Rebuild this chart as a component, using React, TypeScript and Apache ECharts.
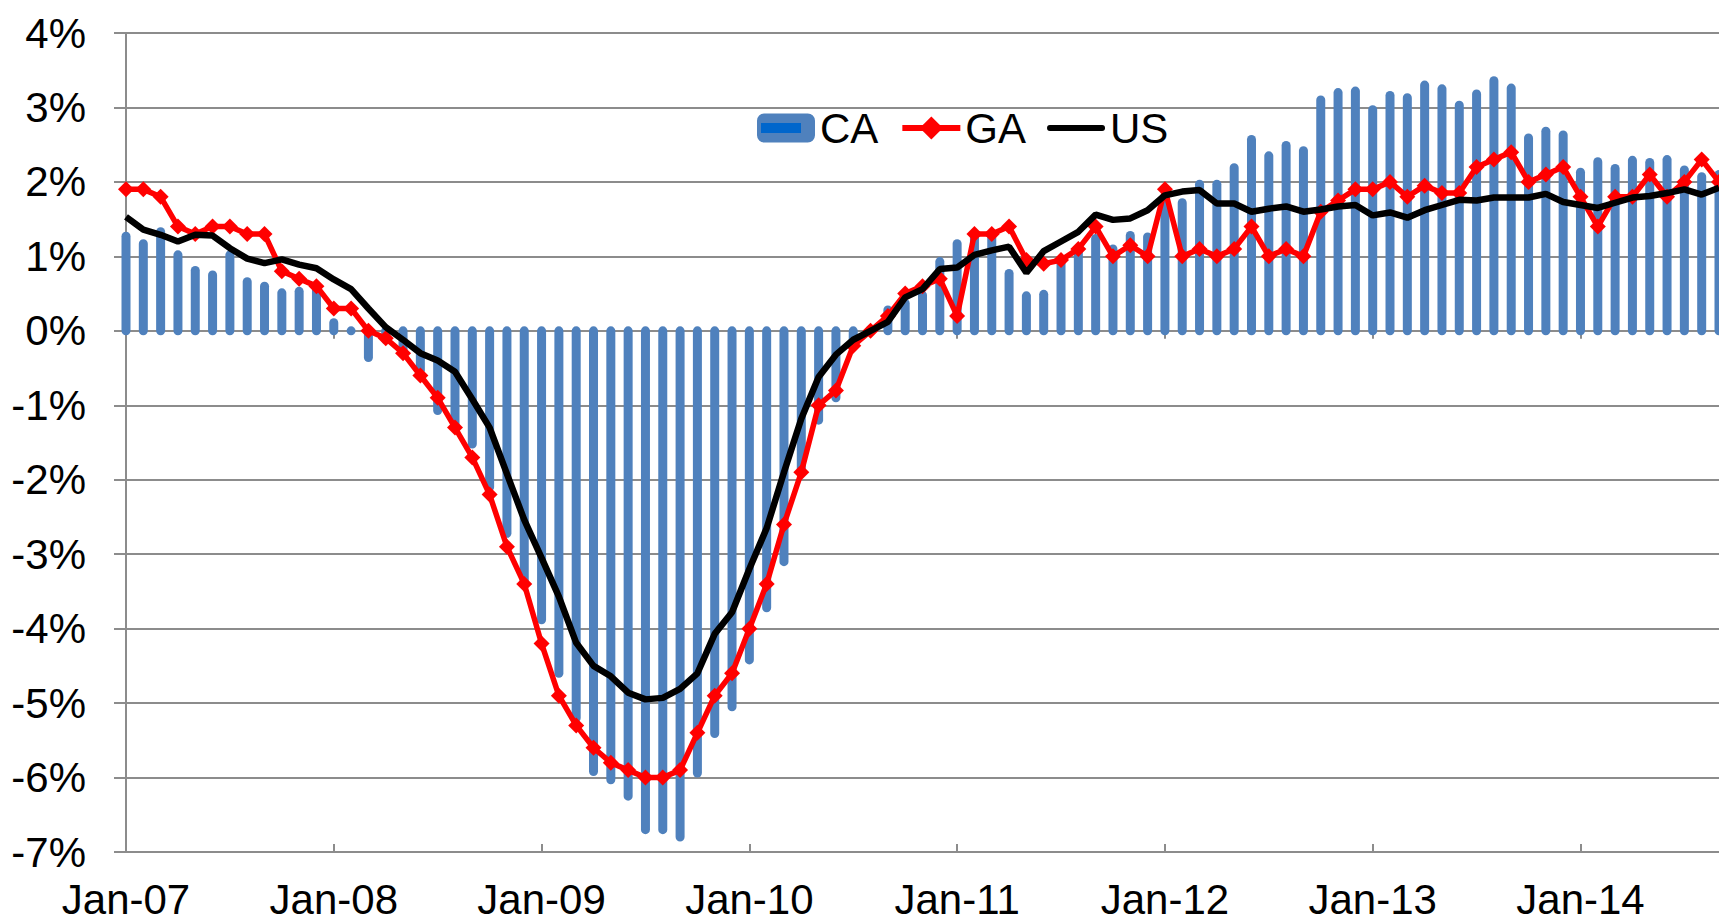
import React, { useEffect, useRef } from 'react';
import * as echarts from 'echarts';

const MONTHS = ['Jan', 'Feb', 'Mar', 'Apr', 'May', 'Jun', 'Jul', 'Aug', 'Sep', 'Oct', 'Nov', 'Dec'];
const YEARS = ['07', '08', '09', '10', '11', '12', '13', '14'];
const N_POINTS = 93; // Jan-07 .. Sep-14

const CA = [
  1.27, 1.17, 1.33, 1.02, 0.81, 0.75, 1.02, 0.66, 0.6, 0.51, 0.53, 0.55,
  0.11, 0.0, -0.36, -0.12, -0.28, -0.53, -1.07, -1.3, -1.52, -2.1, -2.72, -3.4,
  -3.88, -4.6, -5.2, -5.92, -6.03, -6.25, -6.7, -6.7, -6.8, -5.94, -5.41, -5.05,
  -4.42, -3.72, -3.1, -1.9, -1.2, -0.9, -0.15, 0.02, 0.28, 0.37, 0.48, 0.93,
  1.17, 1.25, 1.25, 0.77, 0.47, 0.49, 0.95, 1.1, 1.24, 1.1, 1.28, 1.26,
  1.8, 1.72, 1.97, 1.97, 2.19, 2.57, 2.35, 2.49, 2.42, 3.1, 3.2, 3.22,
  2.97, 3.16, 3.13, 3.3, 3.25, 3.03, 3.18, 3.36, 3.26, 2.59, 2.68, 2.63,
  2.13, 2.27, 2.18, 2.29, 2.26, 2.3, 2.16, 2.07, 2.1,
];

const GA = [
  1.9, 1.9, 1.8, 1.4, 1.3, 1.4, 1.4, 1.3, 1.3, 0.8, 0.7, 0.6,
  0.3, 0.3, 0.0, -0.1, -0.3, -0.6, -0.9, -1.3, -1.7, -2.2, -2.9, -3.4,
  -4.2, -4.9, -5.3, -5.6, -5.8, -5.9, -6.0, -6.0, -5.9, -5.4, -4.9, -4.6,
  -4.0, -3.4, -2.6, -1.9, -1.0, -0.8, -0.2, 0.0, 0.2, 0.5, 0.6, 0.7,
  0.2, 1.3, 1.3, 1.4, 0.95, 0.9, 0.95, 1.1, 1.4, 1.0, 1.15, 1.0,
  1.9, 1.0, 1.1, 1.0, 1.1, 1.4, 1.0, 1.1, 1.0, 1.6, 1.75, 1.9,
  1.9, 2.0, 1.8, 1.95, 1.85, 1.85, 2.2, 2.3, 2.4, 2.0, 2.1, 2.2,
  1.8, 1.4, 1.8, 1.8, 2.1, 1.8, 2.0, 2.3, 2.0,
];

const US = [
  1.53, 1.36, 1.29, 1.2, 1.29, 1.28, 1.11, 0.97, 0.91, 0.96, 0.89, 0.84,
  0.69, 0.56, 0.3, 0.05, -0.12, -0.3, -0.4, -0.55, -0.92, -1.3, -1.92, -2.54,
  -3.05, -3.57, -4.19, -4.5, -4.64, -4.86, -4.95, -4.93, -4.81, -4.6, -4.07, -3.78,
  -3.2, -2.65, -1.9, -1.18, -0.62, -0.32, -0.12, 0.0, 0.12, 0.45, 0.56, 0.83,
  0.85, 1.02, 1.08, 1.13, 0.78, 1.07, 1.2, 1.33, 1.56, 1.49, 1.51, 1.62,
  1.82, 1.87, 1.89, 1.71, 1.71, 1.6, 1.64, 1.67, 1.6, 1.63, 1.67, 1.69,
  1.55, 1.59, 1.52, 1.62, 1.69, 1.76, 1.75, 1.79, 1.79, 1.79, 1.84, 1.73,
  1.69, 1.65, 1.72, 1.79, 1.81, 1.85, 1.9, 1.83, 1.92,
];

const Y_MIN = -7;
const Y_MAX = 4;
const Y_STEP = 1;

const FONT = '"Liberation Sans", Arial, sans-serif';
const GRID_COLOR = '#8c8c8c';
const CA_COLOR = '#4F81BD';
const GA_COLOR = '#FF0000';
const US_COLOR = '#000000';

const LEGEND_LEFT = 752;
const LEGEND_TOP = 102;

function buildCategories(): string[] {
  const out: string[] = [];
  for (const y of YEARS) for (const m of MONTHS) out.push(`${m}-${y}`);
  return out.slice(0, N_POINTS);
}

export default function App() {
  const ref = useRef<HTMLDivElement>(null);

  useEffect(() => {
    if (!ref.current) return;
    const chart = echarts.init(ref.current, null, { renderer: 'svg' });
    const categories = buildCategories();
    const BAR_W = 9;

    const option: any = {
      animation: false,
      backgroundColor: '#ffffff',
      textStyle: { fontFamily: FONT },
      grid: { left: 126, right: -10, top: 33, bottom: 70, containLabel: false },
      legend: {
        left: LEGEND_LEFT,
        top: LEGEND_TOP,
        itemWidth: 58,
        itemHeight: 29,
        itemGap: 21,
        lineStyle: { width: 6 },
        textStyle: { fontSize: 42, color: '#000', fontFamily: FONT },
        data: [
          { name: 'CA', icon: 'roundRect', itemStyle: { color: CA_COLOR } },
          { name: 'GA' },
          {
            name: 'US',
            icon: 'path://M3,0H57A3,3 0 0 1 57,6H3A3,3 0 0 1 3,0Z',
            itemStyle: { color: US_COLOR },
          },
        ],
      },
      graphic: [
        {
          type: 'rect',
          left: LEGEND_LEFT + 9,
          top: LEGEND_TOP + 21,
          shape: { width: 40, height: 10 },
          style: { fill: '#0066CC' },
          z: 100,
        },
      ],
      xAxis: [
        {
          type: 'category',
          data: categories,
          boundaryGap: false,
          position: 'bottom',
          axisLine: { show: false, onZero: false },
          axisTick: { show: false },
          splitLine: { show: false },
          axisLabel: {
            interval: 11,
            fontSize: 42,
            lineHeight: 42,
            color: '#000',
            fontFamily: FONT,
            margin: 26,
          },
        },
        {
          type: 'category',
          data: categories,
          boundaryGap: false,
          position: 'bottom',
          axisLine: { show: true, onZero: true, lineStyle: { color: GRID_COLOR, width: 2 } },
          axisTick: { show: true, interval: 11, length: 8, inside: false, lineStyle: { color: GRID_COLOR, width: 2 } },
          axisLabel: { show: false },
          splitLine: { show: false },
        },
        {
          type: 'category',
          data: categories,
          boundaryGap: false,
          position: 'bottom',
          axisLine: { show: false, onZero: true },
          axisTick: { show: true, interval: 11, length: 8, inside: true, lineStyle: { color: GRID_COLOR, width: 2 } },
          axisLabel: { show: false },
          splitLine: { show: false },
        },
      ],
      yAxis: {
        type: 'value',
        min: Y_MIN,
        max: Y_MAX,
        interval: Y_STEP,
        axisLine: { show: true, lineStyle: { color: GRID_COLOR, width: 2 } },
        axisTick: { show: true, length: 12, lineStyle: { color: GRID_COLOR, width: 2 } },
        splitLine: { show: true, lineStyle: { color: GRID_COLOR, width: 2 } },
        axisLabel: {
          formatter: '{value}%',
          fontSize: 42,
          color: '#000',
          fontFamily: FONT,
          margin: 40,
        },
      },
      series: [
        {
          name: 'CA',
          type: 'custom',
          xAxisIndex: 0,
          z: 2,
          encode: { x: 0, y: 1 },
          data: CA.map((v, i) => [i, v]),
          renderItem: (params: any, api: any) => {
            const idx = api.value(0);
            const val = api.value(1);
            const p0 = api.coord([idx, 0]);
            const p1 = api.coord([idx, val]);
            const top = Math.min(p0[1], p1[1]) - BAR_W / 2;
            const h = Math.abs(p1[1] - p0[1]) + BAR_W;
            return {
              type: 'rect',
              shape: { x: p0[0] - BAR_W / 2, y: top, width: BAR_W, height: h, r: BAR_W / 2 },
              style: { fill: CA_COLOR },
            };
          },
        },
        {
          name: 'GA',
          type: 'line',
          xAxisIndex: 0,
          z: 3,
          data: GA,
          symbol: 'diamond',
          symbolSize: 16,
          showAllSymbol: true,
          lineStyle: { color: GA_COLOR, width: 5.5 },
          itemStyle: { color: GA_COLOR },
        },
        {
          name: 'US',
          type: 'line',
          xAxisIndex: 0,
          z: 4,
          data: US,
          symbol: 'none',
          lineStyle: { color: US_COLOR, width: 6.5 },
          itemStyle: { color: US_COLOR },
        },
      ],
    };

    chart.setOption(option);
    return () => chart.dispose();
  }, []);

  return (
    <div
      ref={ref}
      style={{ position: 'absolute', left: 0, top: 0, width: 1719, height: 922, background: '#fff' }}
    />
  );
}
